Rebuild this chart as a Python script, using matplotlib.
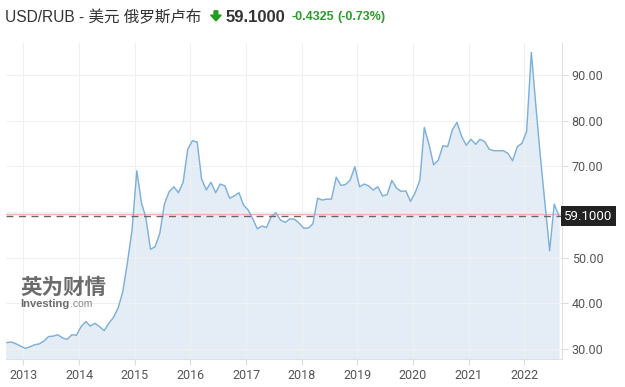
import numpy as np
import pandas as pd
import matplotlib
matplotlib.use("Agg")
import matplotlib.pyplot as plt
import matplotlib.dates as mdates
from matplotlib.patches import FancyArrow

# monthly USD/RUB closes, Sep 2012 - Aug 2022
months = pd.date_range("2012-09-01", periods=120, freq="MS") + pd.Timedelta(days=14)
usd_rub = [
    31.4, 31.5, 31.1, 30.6,                                            # 2012
    30.1, 30.5, 30.9, 31.1, 31.7, 32.7, 32.8, 33.1, 32.4, 32.1, 33.1, 33.0,  # 2013
    34.9, 36.0, 35.0, 35.6, 34.9, 34.0, 35.6, 36.9, 39.0, 42.5, 49.0, 56.1,  # 2014
    69.0, 61.9, 58.8, 51.8, 52.4, 55.3, 61.7, 64.4, 65.5, 64.2, 66.5, 73.7,  # 2015
    75.6, 75.3, 67.2, 64.8, 66.5, 64.2, 66.1, 65.7, 63.0, 63.5, 64.2, 61.5,  # 2016
    60.4, 58.4, 56.3, 56.9, 56.6, 59.0, 59.8, 58.2, 57.7, 58.5, 58.4, 57.5,  # 2017
    56.4, 56.5, 57.4, 63.0, 62.6, 62.8, 62.8, 67.6, 65.8, 66.0, 67.0, 69.9,  # 2018
    65.5, 66.1, 65.7, 64.8, 65.5, 63.5, 63.8, 66.9, 65.2, 64.5, 64.6, 62.3,  # 2019
    64.2, 67.0, 78.5, 74.7, 70.3, 71.4, 74.5, 74.3, 78.0, 79.6, 76.5, 74.6,  # 2020
    75.9, 74.8, 75.9, 75.4, 73.7, 73.4, 73.4, 73.4, 72.8, 71.2, 74.3, 75.0,  # 2021
    77.6, 94.9, 83.8, 72.1, 61.9, 51.5, 61.7, 59.1,                        # 2022
]
last_price = 59.1
prev_close = 59.5325
y_ticks = [30, 40, 50, 60, 70, 80, 90]
y_tick_labels = ["30.00", "40.00", "50.00", "", "70.00", "80.00", "90.00"]
years = list(range(2013, 2023))

fig = plt.figure(figsize=(6.25, 3.87), dpi=100)
ax = fig.add_axes([0.0096, 0.0724, 0.8896, 0.8166])

ax.fill_between(months, usd_rub, 0, color="#e4edf5", zorder=1)
ax.plot(months, usd_rub, color="#7cb0da", lw=1.0, zorder=3)

ax.axhline(prev_close, color="#f4b0b0", lw=1.0, zorder=2)
ax.axhline(last_price, color="#666666", lw=1.0, ls=(0, (5, 4)), zorder=4)

ax.set_ylim(27.8, 97.0)
ax.set_xlim(months[0] - pd.Timedelta(days=6), months[-1] + pd.Timedelta(days=20))

ax.set_xticks([pd.Timestamp(f"{y}-01-01") for y in years])
ax.xaxis.set_major_formatter(mdates.DateFormatter("%Y"))
ax.yaxis.tick_right()
ax.set_yticks(y_ticks)
ax.set_yticklabels(y_tick_labels)

ax.grid(True, color="#f0f0f0", lw=0.8, zorder=0)
for s in ["top", "left"]:
    ax.spines[s].set_visible(False)
for s in ["right", "bottom"]:
    ax.spines[s].set_color("#e0e0e0")
ax.tick_params(axis="both", colors="#dddddd", labelcolor="#555555", length=4,
               labelsize=9)
for lbl in ax.get_xticklabels() + ax.get_yticklabels():
    lbl.set_family("Roboto")
ax.tick_params(axis="y", pad=3)
ax.tick_params(axis="x", pad=3)

# current price tag
ax.text(1.004, last_price, f"{last_price:.4f}", transform=ax.get_yaxis_transform(),
        ha="left", va="center", color="white", fontsize=9.5, family="Roboto",
        bbox=dict(boxstyle="square,pad=0.25", fc="#222222", ec="none"), zorder=10)

# watermark
fig.text(0.032, 0.257, "英为财情", family=["Noto Sans CJK SC"], fontweight="bold",
         fontsize=15.5, color="#6b6b6b", ha="left", va="center")
fig.text(0.033, 0.215, "Investing", family="Liberation Sans", fontweight="bold",
         fontsize=8, color="#6b6b6b", ha="left", va="center")
fig.text(0.1115, 0.215, ".com", family="Liberation Sans",
         fontsize=7.5, color="#888888", ha="left", va="center")

# header
fig.text(0.008, 0.955, "USD/RUB - 美元 俄罗斯卢布", family=["Liberation Sans", "Noto Sans CJK SC"],
         fontsize=11.2, color="#333333", ha="left", va="center")
fig.patches.append(FancyArrow(0.3455, 0.972, 0, -0.026, width=0.006, head_width=0.017,
                              head_length=0.015, length_includes_head=True,
                              color="#1f9e1f", transform=fig.transFigure, figure=fig))
fig.text(0.361, 0.955, "59.1000", family="Liberation Sans", fontweight="bold",
         fontsize=12, color="#333333", ha="left", va="center")
fig.text(0.466, 0.955, "-0.4325", family="Liberation Sans", fontweight="bold",
         fontsize=9, color="#2a9d2a", ha="left", va="center")
fig.text(0.540, 0.955, "(-0.73%)", family="Liberation Sans", fontweight="bold",
         fontsize=9, color="#2a9d2a", ha="left", va="center")

fig.savefig("out.png", dpi=100)
